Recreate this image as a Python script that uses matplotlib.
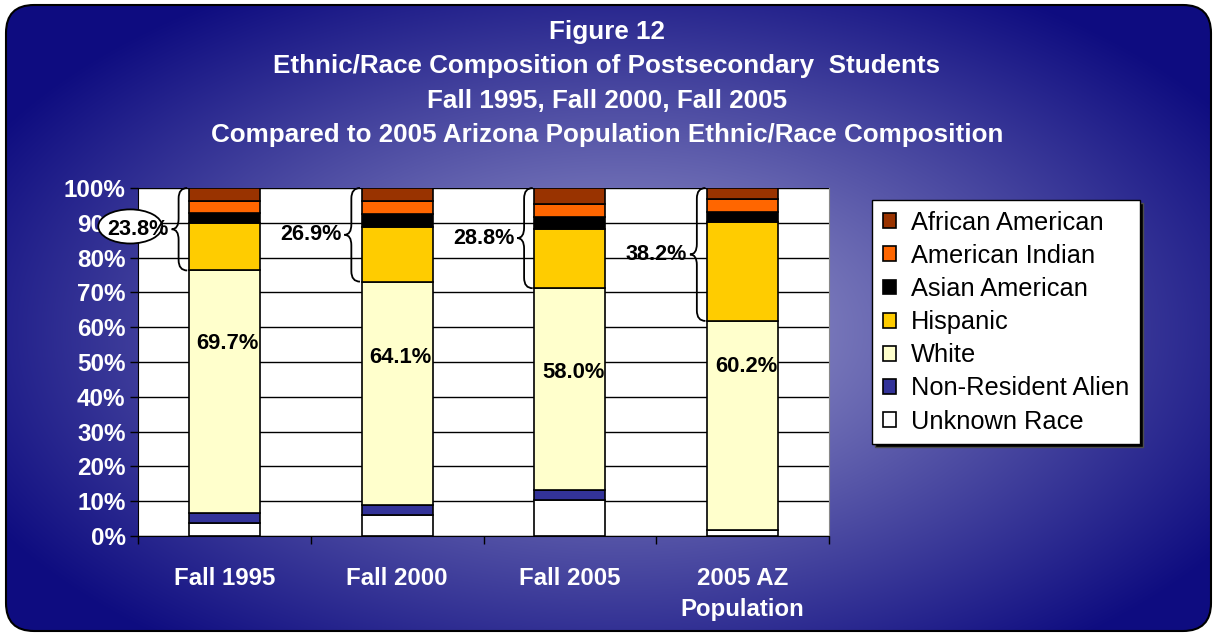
import numpy as np
import matplotlib
matplotlib.use("Agg")
import matplotlib.pyplot as plt
from matplotlib.patches import FancyBboxPatch, Ellipse, PathPatch
from matplotlib.path import Path

plt.rcParams['font.family'] = ['Liberation Sans', 'DejaVu Sans']

# data (percent of total, bottom to top)
categories = ['Fall 1995', 'Fall 2000', 'Fall 2005', '2005 AZ\nPopulation']
unknown = [3.8, 6.0, 10.3, 1.6]
non_resident = [2.8, 3.0, 2.9, 0.0]
white = [69.7, 64.1, 58.0, 60.2]
hispanic = [13.5, 15.7, 16.9, 28.4]
asian = [3.1, 3.7, 3.7, 2.8]
am_indian = [3.5, 3.8, 3.5, 3.9]
african = [3.6, 3.7, 4.7, 3.1]
minority_labels = ['23.8%', '26.9%', '28.8%', '38.2%']
white_labels = ['69.7%', '64.1%', '58.0%', '60.2%']
white_label_y = [55.3, 51.4, 47.0, 48.6]

series = [
    ('Unknown Race', unknown, '#ffffff'),
    ('Non-Resident Alien', non_resident, '#333399'),
    ('White', white, '#ffffcc'),
    ('Hispanic', hispanic, '#ffcc00'),
    ('Asian American', asian, '#000000'),
    ('American Indian', am_indian, '#ff6600'),
    ('African American', african, '#993300'),
]

W, H = 1214, 635
fig = plt.figure(figsize=(W / 100, H / 100), dpi=100)

# background panel with radial gradient
bg = fig.add_axes([0, 0, 1, 1], zorder=-5)
bg.set_xlim(0, W)
bg.set_ylim(H, 0)
bg.axis('off')
yy, xx = np.mgrid[0:H, 0:W]
d = np.sqrt(((xx - 620) / 720.0) ** 2 + ((yy - 330) / 400.0) ** 2)
t = np.clip(d, 0, 1) ** 1.0
c_in = np.array([0xa0, 0xa0, 0xd0]) / 255
c_out = np.array([0x0e, 0x0c, 0x80]) / 255
img = c_in[None, None, :] * (1 - t[..., None]) + c_out[None, None, :] * t[..., None]
panel = FancyBboxPatch((6, 5), W - 9, H - 9, boxstyle='round,pad=0,rounding_size=28',
                       facecolor='none', edgecolor='black', linewidth=1.5, zorder=3)
im = bg.imshow(img, extent=(0, W, H, 0), zorder=1)
bg.add_patch(panel)
im.set_clip_path(panel)

# titles
titles = ['Figure 12', 'Ethnic/Race Composition of Postsecondary  Students',
          'Fall 1995, Fall 2000, Fall 2005',
          'Compared to 2005 Arizona Population Ethnic/Race Composition']
for i, s in enumerate(titles):
    fig.text(607 / W, 1 - (32 + i * 34.3) / H, s, ha='center', va='center',
             color='white', fontsize=18.7, fontweight='bold')

ax = fig.add_axes([138 / W, 1 - 536 / H, (829 - 138) / W, (536 - 188) / H])
ax.set_facecolor('white')
x = np.arange(len(categories))
bw = 0.41
bottom = np.zeros(len(categories))
handles = {}
for name, vals, col in series:
    vals = np.array(vals)
    b = ax.bar(x, vals, bw, bottom=bottom, color=col, edgecolor='black', linewidth=1.2, label=name)
    handles[name] = b
    bottom = bottom + vals

ax.set_xlim(-0.5, 3.5)
ax.set_ylim(0, 100)
ax.set_axisbelow(True)
ax.set_yticks(np.arange(0, 101, 10))
ax.set_yticklabels([f'{v}%' for v in range(0, 101, 10)])
ax.yaxis.grid(True, color='black', linewidth=1)
ax.tick_params(axis='y', colors='black', labelcolor='white', labelsize=17.5, length=6, width=1, pad=3)
for lbl in ax.get_yticklabels():
    lbl.set_fontweight('bold')
ax.set_xticks(x)
ax.set_xticklabels(categories)
ax.set_xticks(np.arange(-0.5, 3.6, 1), minor=True)
ax.tick_params(axis='x', which='major', length=0, labelcolor='white', labelsize=17.3, pad=22)
ax.tick_params(axis='x', which='minor', length=6, width=1, color='black')
for lbl in ax.get_xticklabels():
    lbl.set_fontweight('bold')
    lbl.set_linespacing(1.45)
ax.spines['top'].set_visible(False)
ax.spines['right'].set_color('#888888')
ax.spines['left'].set_color('black')
ax.spines['bottom'].set_color('black')

# white share labels
for i in range(len(categories)):
    ax.text(x[i] + 0.02, white_label_y[i], white_labels[i], ha='center', va='center',
            fontsize=15.8, fontweight='bold', color='black', zorder=6)


# curly braces around the minority share
def brace(ax, xc, top, bot, label, circled=False):
    xr = xc - bw / 2 - 0.01
    xs = xc - 0.265
    xt = xc - 0.305
    r = 3.0
    mid = (top + bot) / 2
    verts = [(xr, top), (xs, top), (xs, top - r),
             (xs, mid + r),
             (xs, mid), (xt, mid),
             (xs, mid), (xs, mid - r),
             (xs, bot + r),
             (xs, bot), (xr, bot)]
    codes = [Path.MOVETO, Path.CURVE3, Path.CURVE3, Path.LINETO,
             Path.CURVE3, Path.CURVE3, Path.CURVE3, Path.CURVE3,
             Path.LINETO, Path.CURVE3, Path.CURVE3]
    ax.add_patch(PathPatch(Path(verts, codes), facecolor='none', edgecolor='black',
                           linewidth=1.3, zorder=7, clip_on=False))
    if circled:
        ax.add_patch(Ellipse((xt - 0.24, mid + 0.8), 0.37, 9.8, facecolor='white',
                             edgecolor='black', linewidth=1.3, zorder=8, clip_on=False))
    ax.text(xt - 0.015, mid, label, ha='right', va='center', fontsize=15.6,
            fontweight='bold', color='black', zorder=9, clip_on=False)


white_top = np.array(unknown) + np.array(non_resident) + np.array(white)
for i in range(len(categories)):
    brace(ax, x[i], 100, white_top[i], minority_labels[i], circled=(i == 0))

# legend
order = ['African American', 'American Indian', 'Asian American', 'Hispanic',
         'White', 'Non-Resident Alien', 'Unknown Race']
leg = fig.legend([handles[n] for n in order], order, loc='upper left',
                 bbox_to_anchor=(872 / W, 1 - 200 / H), frameon=True, fancybox=False,
                 shadow={'facecolor': 'black', 'alpha': 1}, fontsize=18.3,
                 handlelength=0.52, handleheight=0.52, handletextpad=0.6,
                 labelspacing=0.36, borderpad=0.42, borderaxespad=0)
leg.get_frame().set_edgecolor('black')
leg.get_frame().set_linewidth(1)
leg.get_frame().set_facecolor('white')

fig.savefig('out.png', dpi=100)
